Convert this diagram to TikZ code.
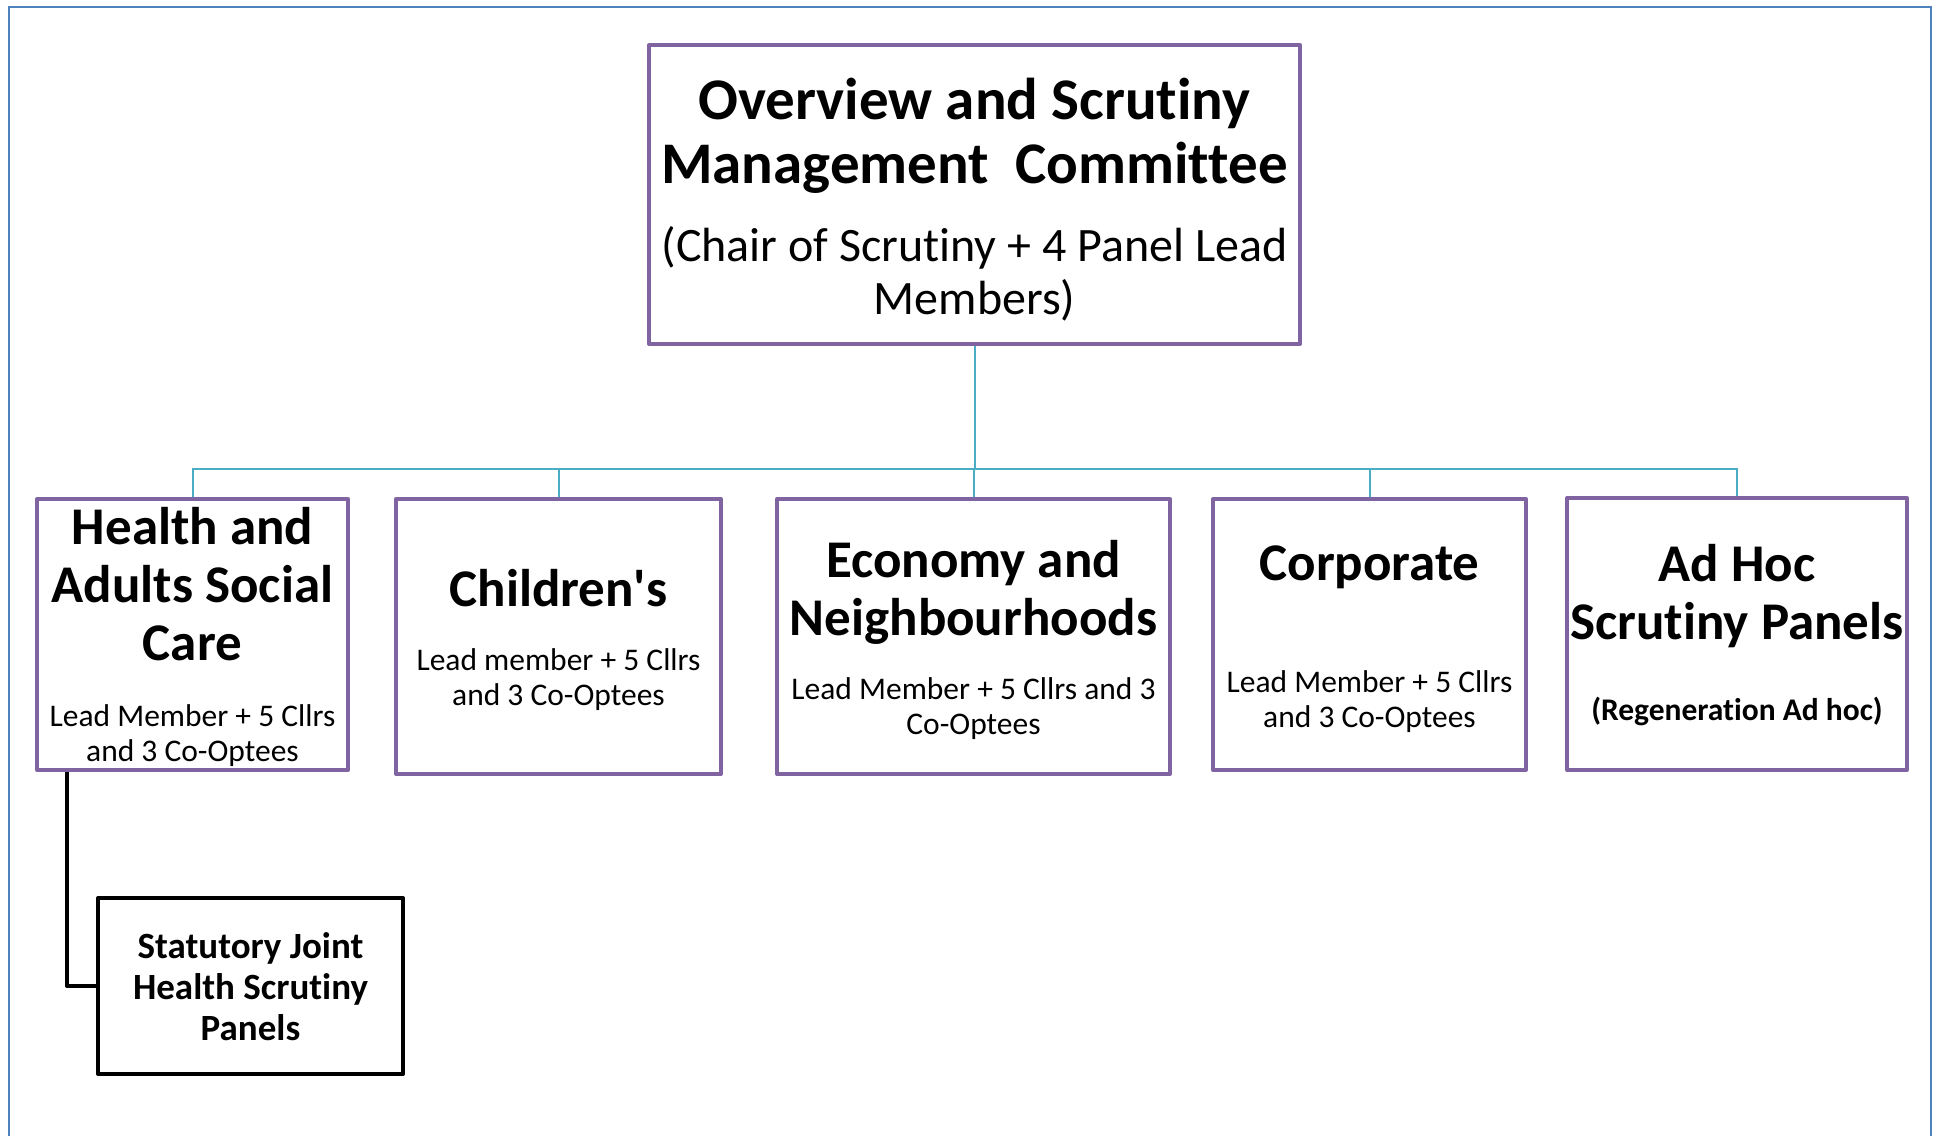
\documentclass[tikz,border=0pt]{standalone}
\usepackage{fontspec}
\setmainfont{Carlito}[Ligatures={NoCommon}]
\usetikzlibrary{calc}

\definecolor{panelpurple}{HTML}{8064A2}
\definecolor{linkblue}{HTML}{4BACC6}
\definecolor{frameblue}{HTML}{4F81BD}

% centred multi-paragraph content of zero width, so the node keeps its minimum size;
% the optional argument lowers the text inside its box
\newcommand{\boxcontent}[2][4pt]{\makebox[0pt]{\raisebox{-#1}[\height][\depth]{\parbox{700pt}{\centering #2}}}}
\newcommand{\ttl}[1]{\fontsize{53}{58}\selectfont\bfseries #1\par}
\newcommand{\sub}[1]{\fontsize{31.5}{35}\selectfont\mdseries #1\par}

\tikzset{
  panel/.style={draw=panelpurple, line width=4pt, line join=round, inner sep=0pt,
    minimum width=#1, fill=white},
  panel/.default=311pt,
  blackbox/.style={draw=black, line width=4pt, line join=round, inner sep=0pt, fill=white},
  link/.style={draw=linkblue, line width=2pt},
  hooklink/.style={draw=black, line width=4pt, line join=round},
  frame/.style={draw=frameblue, line width=2.5pt}
}

\begin{document}
\begin{tikzpicture}[x=1pt, y=-1pt]
\useasboundingbox (0,0) rectangle (1935,1135);

% page frame (open at the bottom)
\draw[frame] (9,1140) -- (9,7) -- (1931,7) -- (1931,1140);

% management committee
\node[panel=651pt, minimum height=299pt] (top) at (974.5,194.5) {\boxcontent[5pt]{%
  \fontsize{59}{64}\selectfont\bfseries Overview and Scrutiny\\Management\ \ Committee\par
  \vspace{25pt}
  \fontsize{48}{53}\selectfont\mdseries (Chair of Scrutiny + 4 Panel Lead\\Members)\par}};

% scrutiny panels
\node[panel=311pt, minimum height=271pt] (health) at (192.5,634.5) {\boxcontent[2pt]{%
  \ttl{Health and\\Adults Social\\Care}\vspace{31pt}\sub{Lead Member + 5 Cllrs\\and 3 Co-Optees}}};

\node[panel=325pt, minimum height=275pt] (children) at (558.5,636.5) {\boxcontent[3pt]{%
  \ttl{Children\textquotesingle s}\vspace{29pt}\sub{Lead member + 5 Cllrs\\and 3 Co-Optees}}};

\node[panel=393pt, minimum height=275pt] (economy) at (973.5,636.5) {\boxcontent[3pt]{%
  \ttl{Economy and\\Neighbourhoods}\vspace{29pt}\sub{Lead Member + 5 Cllrs and 3\\Co-Optees}}};

\node[panel=313pt, minimum height=271pt] (corporate) at (1369.5,634.5) {\boxcontent[5pt]{%
  \ttl{Corporate}\vspace{77pt}\sub{Lead Member + 5 Cllrs\\and 3 Co-Optees}}};

\node[panel=340pt, minimum height=272pt] (adhoc) at (1737,634) {\boxcontent[1pt]{%
  \ttl{Ad Hoc\\Scrutiny Panels}\vspace{48pt}%
  \fontsize{31.5}{33}\selectfont\bfseries (Regeneration Ad hoc)\par}};

% joint health panels
\node[blackbox, minimum width=305pt, minimum height=176pt] (joint) at (250.5,986) {\boxcontent[1pt]{%
  \fontsize{37}{41}\selectfont\bfseries Statutory Joint\\Health Scrutiny\\Panels\par}};

% organisation links
\coordinate (bus) at (0,469);
\coordinate (hook) at (67,0);
\draw[link] (top.south) -- (top.south |- bus);
\draw[link] (health.north) -- (health.north |- bus) -| (adhoc.north);
\draw[link] (children.north) -- (children.north |- bus);
\draw[link] (economy.north) -- (economy.north |- bus);
\draw[link] (corporate.north) -- (corporate.north |- bus);
\draw[hooklink] (hook |- health.south) |- (joint.west);
\end{tikzpicture}
\end{document}
